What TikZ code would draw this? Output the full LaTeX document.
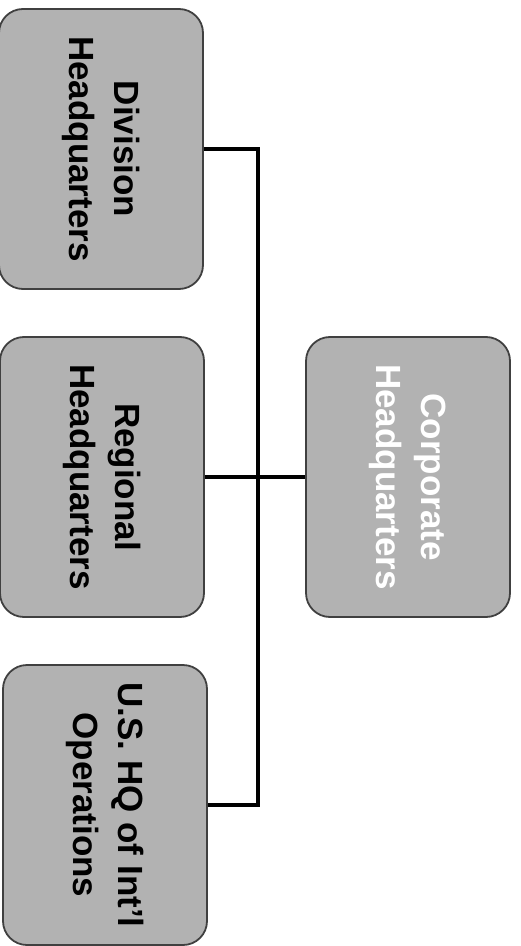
\documentclass[tikz,border=0pt]{standalone}
\usepackage{fontspec}
\setmainfont{Liberation Sans}
\usepackage{xcolor}
\usepackage{tikz}

\tikzset{
  hq/.style={draw=black!75, line width=0.9pt, fill=gray!60, rounded corners=12pt,
    rotate=-90, minimum width=140pt, minimum height=102pt, align=center,
    font=\bfseries\fontsize{17.5}{22.5}\selectfont, inner sep=0pt},
  link/.style={line width=2pt, black}
}

\begin{document}
\begin{tikzpicture}[x=0.5pt, y=-0.5pt]
      \useasboundingbox (0,0) rectangle (520,946);

      \node[hq] (Div) at (101,149) {Division\\Headquarters};
      \node[hq] (Reg) at (102,477) {Regional\\Headquarters};
      \node[hq] (Usq) at (105,805) {U.S. HQ of Int'l\\Operations};
      \node[hq, text=white] (Corp) at (408,477) {Corporate\\Headquarters};

      \coordinate (Bustop) at (258,149);
      \coordinate (Busbot) at (258,805);

      \draw[link] (Div.north) -- (Bustop) -- (Busbot) -- (Usq.north);
      \draw[link] (Reg.north) -- (Corp.south);
    \end{tikzpicture}
\end{document}
